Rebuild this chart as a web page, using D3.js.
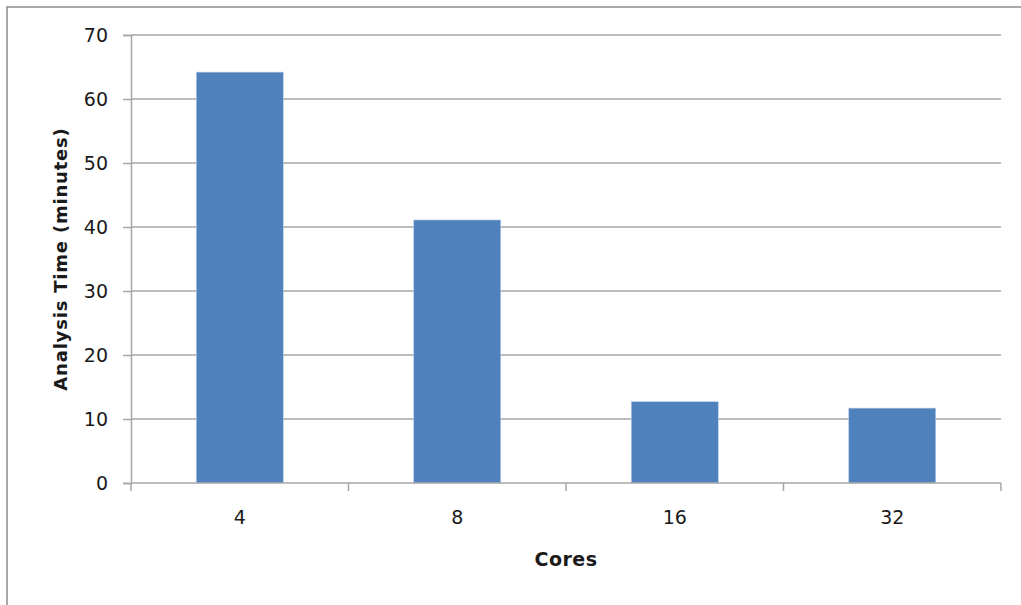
<!DOCTYPE html>
<html>
<head>
<meta charset="utf-8">
<script src="https://cdn.jsdelivr.net/npm/d3@7"></script>
<style>
    body { margin: 0; background: #fff; }
    text { font-family: 'DejaVu Sans', sans-serif; fill: #1a1a1a; }
</style>
</head>
<body>
<svg id="bar-chart" width="1021" height="605"></svg>
<script>
/**
 * Chart data
 */
const cores = ['4', '8', '16', '32'];
const analysisMinutes = [64.2, 41.1, 12.7, 11.7];
const yTicks = [0, 10, 20, 30, 40, 50, 60, 70];

const xTitle = 'Cores';
const yTitle = 'Analysis Time (minutes)';

const fontFamily = "'DejaVu Sans', sans-serif";
const axisColor = '#a6a6a6';

const svg = d3.select('#bar-chart');

// Plot area bounds
const margin = { left: 131, right: 20, top: 35, bottom: 122 };
const width = 1021 - margin.left - margin.right;
const height = 605 - margin.top - margin.bottom;

// Outer frame of the chart area
svg.append('rect')
    .attr('x', 7)
    .attr('y', 7)
    .attr('width', 1030)
    .attr('height', 620)
    .attr('fill', 'none')
    .attr('stroke', '#8c8c8c')
    .attr('stroke-width', 1.5);

const chart = svg.append('g').attr('transform', `translate(${margin.left}, ${margin.top})`);

const xScale = d3.scaleBand()
    .domain(cores)
    .range([0, width])
    .paddingInner(0.6)
    .paddingOuter(0.3);

const yScale = d3.scaleLinear()
    .domain([0, 70])
    .range([height, 0]);

// Horizontal gridlines
chart.append('g')
    .selectAll('line')
    .data(yTicks.filter((t) => t > 0))
    .join('line')
    .attr('x1', 0)
    .attr('x2', width)
    .attr('y1', (t) => yScale(t))
    .attr('y2', (t) => yScale(t))
    .attr('stroke', axisColor)
    .attr('stroke-width', 1.5);

// Bars
chart.selectAll('.bar')
    .data(analysisMinutes)
    .join('rect')
    .attr('class', 'bar')
    .attr('x', (d, i) => xScale(cores[i]))
    .attr('y', (d) => yScale(d))
    .attr('width', xScale.bandwidth())
    .attr('height', (d) => height - yScale(d))
    .attr('fill', '#4f81bd')
    .attr('stroke', '#b9cde5')
    .attr('stroke-width', 0.6);

// Y axis
const yAxis = d3.axisLeft(yScale)
    .tickValues(yTicks)
    .tickSize(8)
    .tickPadding(15);
chart.append('g')
    .call(yAxis)
    .call((g) => {
        g.select('.domain').attr('stroke', axisColor).attr('stroke-width', 1.5);
        g.selectAll('.tick line').attr('stroke', axisColor).attr('stroke-width', 1.5);
        g.selectAll('.tick text')
            .attr('font-size', 19)
            .attr('font-family', fontFamily)
            .attr('fill', '#1a1a1a');
    });

// X axis: ticks sit on category boundaries, labels on band centres
const boundaryScale = d3.scaleLinear().domain([0, cores.length]).range([0, width]);
const xAxisG = chart.append('g').attr('transform', `translate(0, ${height})`);
xAxisG.append('line')
    .attr('x1', 0)
    .attr('x2', width)
    .attr('stroke', axisColor)
    .attr('stroke-width', 1.5);
xAxisG.selectAll('.xtick')
    .data(d3.range(cores.length + 1))
    .join('line')
    .attr('class', 'xtick')
    .attr('x1', (i) => boundaryScale(i))
    .attr('x2', (i) => boundaryScale(i))
    .attr('y1', 0)
    .attr('y2', 8)
    .attr('stroke', axisColor)
    .attr('stroke-width', 1.5);
xAxisG.selectAll('.xlabel')
    .data(cores)
    .join('text')
    .attr('class', 'xlabel')
    .attr('x', (c) => xScale(c) + xScale.bandwidth() / 2)
    .attr('y', 41)
    .attr('text-anchor', 'middle')
    .attr('font-size', 19)
    .text((c) => c);

// Axis titles
svg.append('text')
    .attr('x', margin.left + width / 2)
    .attr('y', 566)
    .attr('text-anchor', 'middle')
    .attr('font-size', 19)
    .attr('font-weight', 'bold')
    .attr('letter-spacing', 0.5)
    .text(xTitle);

svg.append('text')
    .attr('transform', `translate(67, ${margin.top + height / 2}) rotate(-90)`)
    .attr('text-anchor', 'middle')
    .attr('font-size', 18)
    .attr('font-weight', 'bold')
    .attr('letter-spacing', 0.8)
    .text(yTitle);
</script>
</body>
</html>
